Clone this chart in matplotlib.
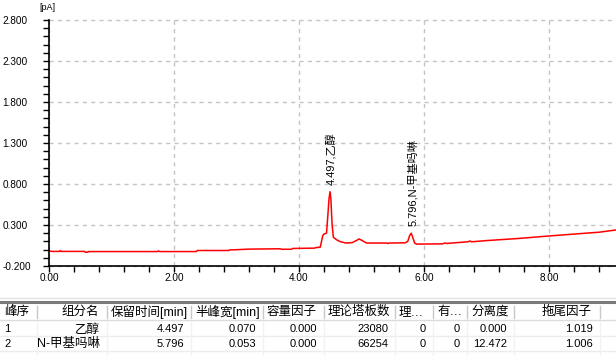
import matplotlib
matplotlib.use("Agg")
import matplotlib.pyplot as plt
from matplotlib.lines import Line2D
from matplotlib.ticker import MultipleLocator, FormatStrFormatter

plt.rcParams['font.family'] = ['Liberation Sans', 'Noto Sans CJK SC', 'DejaVu Sans']

# chromatogram trace (min, pA)
time_min = [0.00, 0.05, 0.17, 0.18, 0.19, 0.57, 0.58, 0.62, 0.63, 1.74, 1.75, 1.77,
            2.36, 2.37, 2.88, 2.89, 2.95, 3.20, 3.70, 3.72, 3.88, 3.90, 4.25, 4.27,
            4.34, 4.36, 4.38, 4.40, 4.44, 4.46, 4.48, 4.497, 4.51, 4.53, 4.55, 4.60,
            4.66, 4.75, 4.85, 4.93, 4.96, 5.00, 5.08, 5.40, 5.42, 5.44, 5.70, 5.74,
            5.77, 5.796, 5.82, 5.85, 5.88, 6.30, 6.33, 6.36, 6.70, 6.74, 6.76, 7.00,
            7.50, 8.00, 8.50, 8.80, 9.07]
signal_pa = [-0.017, -0.022, -0.022, -0.012, -0.022, -0.022, -0.032, -0.032, -0.024,
             -0.024, -0.015, -0.024, -0.024, -0.011, -0.011, -0.003, -0.003, 0.006,
             0.010, 0.004, 0.004, 0.014, 0.018, 0.024, 0.030, 0.100, 0.170, 0.190,
             0.200, 0.400, 0.620, 0.706, 0.620, 0.300, 0.150, 0.120, 0.097, 0.080,
             0.085, 0.115, 0.130, 0.115, 0.080, 0.080, 0.074, 0.080, 0.083, 0.100,
             0.170, 0.200, 0.150, 0.080, 0.067, 0.070, 0.080, 0.075, 0.095, 0.105,
             0.095, 0.110, 0.135, 0.166, 0.195, 0.212, 0.239]

peak_times = [4.497, 5.796]
peak_heights = [0.706, 0.200]
peak_names = ['乙醇', 'N-甲基吗啉']

headers = ['峰序', '组分名', '保留时间[min]', '半峰宽[min]', '容量因子', '理论塔板数',
           '理…', '有…', '分离度', '拖尾因子']
rows = [
    ['1', '乙醇', '4.497', '0.070', '0.000', '23080', '0', '0', '0.000', '1.019'],
    ['2', 'N-甲基吗啉', '5.796', '0.053', '0.000', '66254', '0', '0', '12.472', '1.006'],
]

# table layout (pixels)
col_edges = [0, 37, 107, 191, 263, 324, 395, 433, 467, 514, 600, 616]
header_align = ['left', 'right', 'left', 'left', 'left', 'left', 'left', 'left', 'left', 'right']
cell_align = ['left'] + ['right'] * 9

W, H = 616, 356
fig = plt.figure(figsize=(W / 100, H / 100), dpi=100)

# ---- chromatogram ----
ax = fig.add_axes([49 / W, (H - 266) / H, 1 - 49 / W, 246 / H])
ax.plot(time_min, signal_pa, color='#ff0000', lw=1.1)
ax.set_xlim(0, 9.072)
ax.set_ylim(-0.2, 2.8)

ax.xaxis.set_major_locator(MultipleLocator(2))
ax.xaxis.set_minor_locator(MultipleLocator(0.4))
ax.yaxis.set_major_locator(MultipleLocator(0.5, offset=0.3))
ax.yaxis.set_minor_locator(MultipleLocator(0.1))
ax.xaxis.set_major_formatter(FormatStrFormatter('%.2f'))
ax.yaxis.set_major_formatter(FormatStrFormatter('%.3f'))

for s in ['top', 'right']:
    ax.spines[s].set_visible(False)
for s in ['left', 'bottom']:
    ax.spines[s].set_linewidth(1.2)
    ax.spines[s].set_color('black')

ax.tick_params(axis='both', which='both', direction='out', length=4, width=1, color='black')
ax.tick_params(axis='x', which='major', labelsize=7.2, pad=1)
ax.tick_params(axis='y', which='major', labelsize=7.2, pad=29.5)
for lab in ax.get_yticklabels():
    lab.set_horizontalalignment('left')

ax.grid(True, which='major', color='#c4c4c4', linestyle=(0, (3, 3)), lw=1)
for gl in ax.get_ygridlines() + ax.get_xgridlines():
    gl.set_clip_on(False)

fig.text(47 / W, 1 - 7 / H, '[pA]', fontsize=6.5, ha='center', va='center')

for t, h, name in zip(peak_times, peak_heights, peak_names):
    ax.annotate(f'{t:.3f},{name}', xy=(t, h), xytext=(1, 5), textcoords='offset points',
                rotation=90, ha='center', va='bottom', fontsize=8,
                family=['Liberation Sans', 'Noto Sans CJK SC'])

# ---- peak table ----
tab = fig.add_axes([0, 0, 1, 62 / H])
tab.set_xlim(0, W)
tab.set_ylim(H, H - 62)
tab.axis('off')

tab.add_line(Line2D([0, W], [298, 298], color='#e2e2e2', lw=1))
tab.add_line(Line2D([0, W], [302, 302], color='#7a7a7a', lw=2.2))
tab.add_line(Line2D([0, W], [320, 320], color='#dcdcdc', lw=1))
for yy in [336, 351]:
    tab.add_line(Line2D([0, W], [yy, yy], color='#ececec', lw=1))
for xe in col_edges[1:-1]:
    tab.add_line(Line2D([xe, xe], [306, 318], color='#c8c8c8', lw=1))
    tab.add_line(Line2D([xe, xe], [321, 356], color='#f2f2f2', lw=1))

for i, txt in enumerate(headers):
    if header_align[i] == 'left':
        x = col_edges[i] + 4
    else:
        x = col_edges[i + 1] - 8
    tab.text(x, 312, txt, ha=header_align[i], va='center', fontsize=9,
             family=['Liberation Sans', 'Noto Sans CJK SC'])

row_y = [329.5, 344]
for r, row in enumerate(rows):
    for i, txt in enumerate(row):
        if cell_align[i] == 'left':
            x = col_edges[i] + 4
        else:
            x = col_edges[i + 1] - 7
        size = 9 if any(ord(c) > 127 for c in txt) else 8
        tab.text(x, row_y[r], txt, ha=cell_align[i], va='center', fontsize=size,
                 family=['Liberation Sans', 'Noto Sans CJK SC'])

fig.savefig('out.png', dpi=100)
